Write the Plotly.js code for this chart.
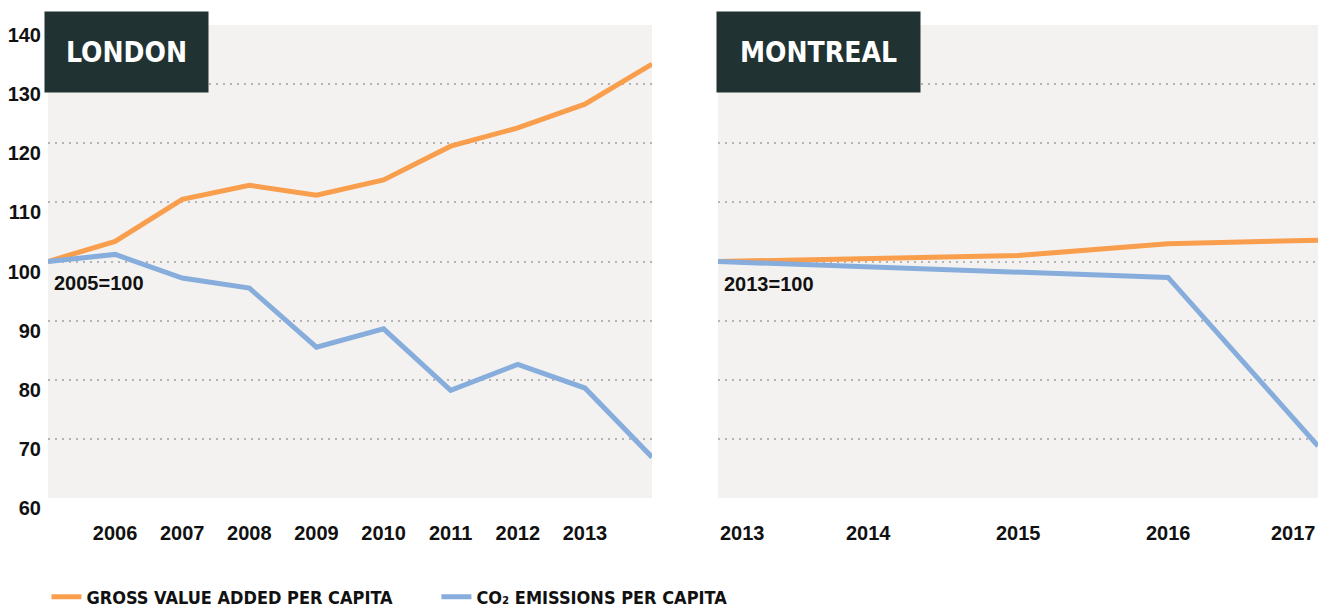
<!DOCTYPE html>
<html>
<head>
<meta charset="utf-8">
<script src="https://cdn.plot.ly/plotly-3.0.1.min.js"></script>
<style>html,body{margin:0;padding:0;background:#fff;}#chart{width:1327px;height:607px;}</style>
</head>
<body>
<div id="chart"></div>
<script>
// London data (2005 = 100)
const londonYears = [2005, 2006, 2007, 2008, 2009, 2010, 2011, 2012, 2013, 2014];
const londonGVA   = [100, 103.4, 110.5, 112.9, 111.2, 113.8, 119.5, 122.6, 126.6, 133.4];
const londonCO2   = [100, 101.2, 97.2, 95.5, 85.5, 88.6, 78.2, 82.6, 78.6, 66.9];
const londonTicks = [2006, 2007, 2008, 2009, 2010, 2011, 2012, 2013];

// Montreal data (2013 = 100)
const montrealYears = [2013, 2014, 2015, 2016, 2017];
const montrealGVA   = [100, 100.5, 101.0, 103.0, 103.6];
const montrealCO2   = [100, 99.1, 98.2, 97.3, 68.8];
const montrealTicks = [2013, 2014, 2015, 2016, 2017];

const yTicks = [60, 70, 80, 90, 100, 110, 120, 130, 140];

const ORANGE = '#F99E4C';
const BLUE = '#87ADDC';
const DARK = '#213232';
const NARROW = '"DejaVu Sans Condensed", "DejaVu Sans", sans-serif';
const SANS = '"Liberation Sans", Arial, sans-serif';

const W = 1327, H = 607;
const plotTop = 25, plotBottom = 498;

const traces = [
  {x: londonYears, y: londonGVA, xaxis: 'x', yaxis: 'y', mode: 'lines', name: 'GROSS VALUE ADDED PER CAPITA',
   line: {color: ORANGE, width: 5}, legendgroup: 'gva'},
  {x: londonYears, y: londonCO2, xaxis: 'x', yaxis: 'y', mode: 'lines', name: 'CO₂ EMISSIONS PER CAPITA',
   line: {color: BLUE, width: 5}, legendgroup: 'co2'},
  {x: montrealYears, y: montrealGVA, xaxis: 'x2', yaxis: 'y2', mode: 'lines', name: 'GROSS VALUE ADDED PER CAPITA',
   line: {color: ORANGE, width: 5}, legendgroup: 'gva', showlegend: false},
  {x: montrealYears, y: montrealCO2, xaxis: 'x2', yaxis: 'y2', mode: 'lines', name: 'CO₂ EMISSIONS PER CAPITA',
   line: {color: BLUE, width: 5}, legendgroup: 'co2', showlegend: false}
];

const yCommon = {
  range: [60, 140], tickvals: yTicks, showgrid: true, gridcolor: '#b5b5b5', gridwidth: 2, griddash: '2px,5px',
  zeroline: false, showline: false, ticks: '', fixedrange: true
};

const annotations = [
  {xref: 'x domain', yref: 'y domain', x: (44 - 48) / 604, y: 1 + (plotTop - 11) / 473, xanchor: 'left', yanchor: 'top',
   width: 161, height: 78, bgcolor: DARK, showarrow: false, align: 'center', valign: 'middle',
   text: 'LONDON', font: {family: NARROW, size: 28, color: '#ffffff', weight: 700}},
  {xref: 'x2 domain', yref: 'y2 domain', x: (716 - 718) / 600, y: 1 + (plotTop - 11) / 473, xanchor: 'left', yanchor: 'top',
   width: 201, height: 78, bgcolor: DARK, showarrow: false, align: 'center', valign: 'middle',
   text: 'MONTREAL', font: {family: NARROW, size: 28, color: '#ffffff', weight: 700}},
  {xref: 'x', yref: 'y', x: londonYears[0], y: londonGVA[0], xanchor: 'left', yanchor: 'middle', xshift: 4, yshift: -21,
   showarrow: false, text: '2005=100', font: {family: SANS, size: 20, color: '#111', weight: 700}},
  {xref: 'x2', yref: 'y2', x: montrealYears[0], y: montrealGVA[0], xanchor: 'left', yanchor: 'middle', xshift: 4, yshift: -22,
   showarrow: false, text: '2013=100', font: {family: SANS, size: 20, color: '#111', weight: 700}}
];

montrealTicks.forEach((t, i) => {
  const anchor = i === 0 ? 'left' : (i === montrealTicks.length - 1 ? 'right' : 'center');
  annotations.push({xref: 'x2', yref: 'y2 domain', x: t, y: 0, xanchor: anchor, yanchor: 'middle', yshift: -35,
    showarrow: false, text: String(t), font: {family: SANS, size: 20, color: '#111', weight: 700}});
});

const layout = {
  width: W, height: H,
  margin: {l: 0, r: 0, t: plotTop, b: H - plotBottom, autoexpand: false},
  paper_bgcolor: '#ffffff', plot_bgcolor: '#F3F2F0',
  showlegend: true,
  legend: {orientation: 'h', x: 0.035, xanchor: 'left', y: -(597 - plotBottom) / 473, yanchor: 'middle',
    entrywidth: 345, entrywidthmode: 'pixels',
    font: {family: NARROW, size: 18, color: '#111', weight: 700}, bgcolor: 'rgba(0,0,0,0)', tracegroupgap: 0},
  xaxis: {domain: [48 / W, 652 / W], range: [2005, 2014], tickvals: londonTicks, showgrid: false, zeroline: false,
    ticks: '', ticklabelstandoff: 21, fixedrange: true,
    tickfont: {family: SANS, size: 20, color: '#111', weight: 700}},
  yaxis: Object.assign({}, yCommon, {anchor: 'x', showticklabels: true, ticklabelstandoff: 6, ticklabelshift: 10,
    tickfont: {family: SANS, size: 20, color: '#111', weight: 700}}),
  xaxis2: {domain: [718 / W, 1318 / W], range: [2013, 2017], showgrid: false, zeroline: false, showticklabels: false,
    ticks: '', fixedrange: true},
  yaxis2: Object.assign({}, yCommon, {anchor: 'x2', showticklabels: false}),
  annotations: annotations
};

Plotly.newPlot('chart', traces, layout, {displayModeBar: false, staticPlot: true});
</script>
</body>
</html>
